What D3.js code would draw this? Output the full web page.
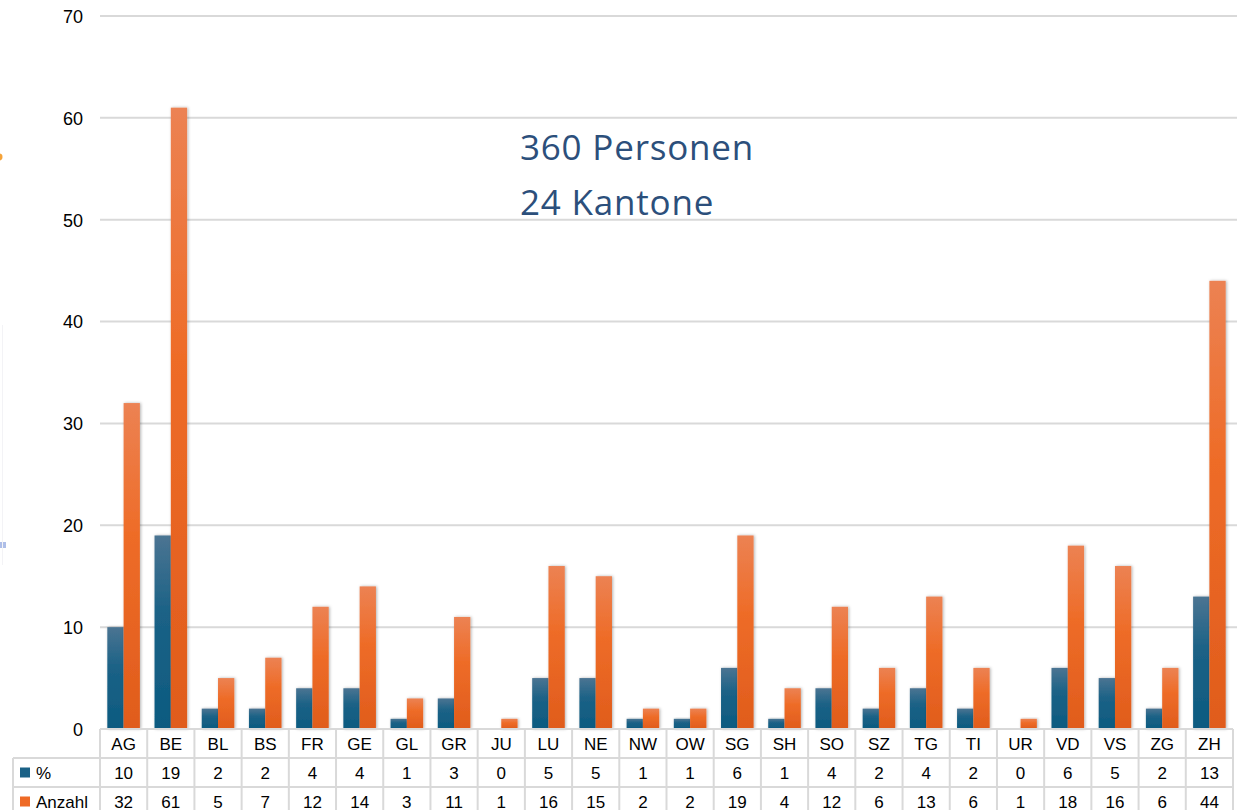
<!DOCTYPE html>
<html>
<head>
<meta charset="utf-8">
<script src="https://cdn.jsdelivr.net/npm/d3@7"></script>
<style>
  html, body { margin: 0; padding: 0; background: #ffffff; }
  svg { display: block; }
</style>
</head>
<body>
<svg id="chart" width="1237" height="810"></svg>
<script>
const categories = ["AG","BE","BL","BS","FR","GE","GL","GR","JU","LU","NE","NW","OW","SG","SH","SO","SZ","TG","TI","UR","VD","VS","ZG","ZH"];
const seriesNames = ["%", "Anzahl"];
const pctValues = [10,19,2,2,4,4,1,3,0,5,5,1,1,6,1,4,2,4,2,0,6,5,2,13];
const countValues = [32,61,5,7,12,14,3,11,1,16,15,2,2,19,4,12,6,13,6,1,18,16,6,44];
const yTicks = [0,10,20,30,40,50,60,70];
const annotationLines = ["360 Personen", "24 Kantone"];

(function () {
const seriesValues = [pctValues, countValues];
const svg = d3.select("#chart");
const W = 1237, H = 810;
const plotLeft = 100, plotRight = 1233, plotTop = 16, base = 729;
const rowH = 29;

const defs = svg.append("defs");
const gradBlue = defs.append("linearGradient").attr("id","gBlue").attr("x1",0).attr("y1",0).attr("x2",0).attr("y2",1);
gradBlue.append("stop").attr("offset","0%").attr("stop-color","#4b7492");
gradBlue.append("stop").attr("offset","40%").attr("stop-color","#1b6286");
gradBlue.append("stop").attr("offset","100%").attr("stop-color","#0c5a80");
const gradOrange = defs.append("linearGradient").attr("id","gOrange").attr("x1",0).attr("y1",0).attr("x2",0).attr("y2",1);
gradOrange.append("stop").attr("offset","0%").attr("stop-color","#ec8253");
gradOrange.append("stop").attr("offset","40%").attr("stop-color","#ee6c28");
gradOrange.append("stop").attr("offset","100%").attr("stop-color","#e05c1c");
const shadow = defs.append("filter").attr("id","shadow").attr("x","-50%").attr("y","-10%").attr("width","200%").attr("height","120%");
shadow.append("feDropShadow").attr("dx",1).attr("dy",0).attr("stdDeviation",1.6).attr("flood-color","#000").attr("flood-opacity",0.3);

const fills = ["url(#gBlue)", "url(#gOrange)"];
const keyColors = ["#1a6186", "#ee6a26"];

const x = d3.scaleBand().domain(categories).range([plotLeft, plotRight]).padding(0);
const bw = x.bandwidth();
const x1 = d3.scaleBand().domain(seriesNames).range([bw*0.155, bw*0.845]).padding(0);
const y = d3.scaleLinear().domain([0,70]).range([base, plotTop]);

// small artifacts at left edge
svg.append("circle").attr("cx",-1).attr("cy",157).attr("r",3.5).attr("fill","#f5a33a");
svg.append("rect").attr("x",0).attr("y",542).attr("width",6).attr("height",6).attr("fill","#aebee8");
svg.append("rect").attr("x",2).attr("y",325).attr("width",1).attr("height",240).attr("fill","#f3f3f6");

// gridlines
svg.append("g").selectAll("line").data(yTicks.filter(d => d > 0)).join("line")
  .attr("x1", plotLeft).attr("x2", W)
  .attr("y1", d => y(d)).attr("y2", d => y(d))
  .attr("stroke", "#d9d9d9").attr("stroke-width", 2);

// y axis labels
const yAxis = d3.axisLeft(y).tickValues(yTicks).tickSize(0).tickPadding(0);
const yg = svg.append("g").attr("transform", `translate(83,0)`).call(yAxis);
yg.select(".domain").remove();
yg.selectAll("text").attr("font-family","Liberation Sans, Arial, sans-serif").attr("font-size","18px").attr("fill","#000").attr("dy","0.35em");

// bars
const groups = svg.append("g").selectAll("g").data(categories).join("g")
  .attr("transform", d => `translate(${x(d)},0)`);
seriesNames.forEach((s, si) => {
  groups.append("rect")
    .attr("x", x1(s))
    .attr("width", x1.bandwidth())
    .attr("y", (d, i) => y(seriesValues[si][i]))
    .attr("height", (d, i) => base - y(seriesValues[si][i]))
    .attr("fill", fills[si])
    .attr("filter", (d, i) => seriesValues[si][i] > 0 ? "url(#shadow)" : null);
});

// annotation
const ann = svg.append("g").attr("font-family","Open Sans, sans-serif").attr("font-size","35px")
  .attr("letter-spacing","0.8px").attr("fill","#2c4f7b");
ann.selectAll("text").data(annotationLines).join("text")
  .attr("x", 520).attr("y", (d, i) => 160 + i*55).text(d => d);

// data table
const tbl = svg.append("g");
const tf = "Liberation Sans, Arial, sans-serif";
const gridCol = "#d9d9d9";
tbl.selectAll("text.cat").data(categories).join("text").attr("class","cat")
  .attr("x", d => x(d) + bw/2).attr("y", base + rowH/2).attr("dy","0.36em")
  .attr("text-anchor","middle").attr("font-family",tf).attr("font-size","17px").attr("fill","#000").text(d => d);
seriesNames.forEach((s, si) => {
  const ry = base + rowH*(si+1);
  tbl.selectAll("text.v"+si).data(categories).join("text").attr("class","v"+si)
    .attr("x", d => x(d) + bw/2).attr("y", ry + rowH/2).attr("dy","0.36em")
    .attr("text-anchor","middle").attr("font-family",tf).attr("font-size","17px").attr("fill","#000")
    .text((d, i) => seriesValues[si][i]);
  tbl.append("rect").attr("x",20).attr("y", ry + rowH/2 - 5).attr("width",10).attr("height",10).attr("fill", keyColors[si]);
  tbl.append("text").attr("x",36).attr("y", ry + rowH/2).attr("dy","0.36em")
    .attr("font-family",tf).attr("font-size","17px").attr("fill","#000").text(s);
});
const hLines = [
  {x1:plotLeft, x2:plotRight, y:base},
  {x1:13, x2:plotRight, y:base+rowH},
  {x1:13, x2:plotRight, y:base+rowH*2},
  {x1:13, x2:plotRight, y:base+rowH*3}
];
tbl.selectAll("line.h").data(hLines).join("line").attr("class","h")
  .attr("x1", d => d.x1).attr("x2", d => d.x2).attr("y1", d => d.y).attr("y2", d => d.y)
  .attr("stroke", gridCol).attr("stroke-width", 2);
const vX = categories.map(c => x(c)).concat([plotRight]);
tbl.selectAll("line.v").data(vX).join("line").attr("class","v")
  .attr("x1", d => d).attr("x2", d => d).attr("y1", base).attr("y2", H)
  .attr("stroke", gridCol).attr("stroke-width", 2);
tbl.append("line").attr("x1",13).attr("x2",13).attr("y1",base+rowH).attr("y2",H).attr("stroke",gridCol).attr("stroke-width",2);
})();
</script>
</body>
</html>
